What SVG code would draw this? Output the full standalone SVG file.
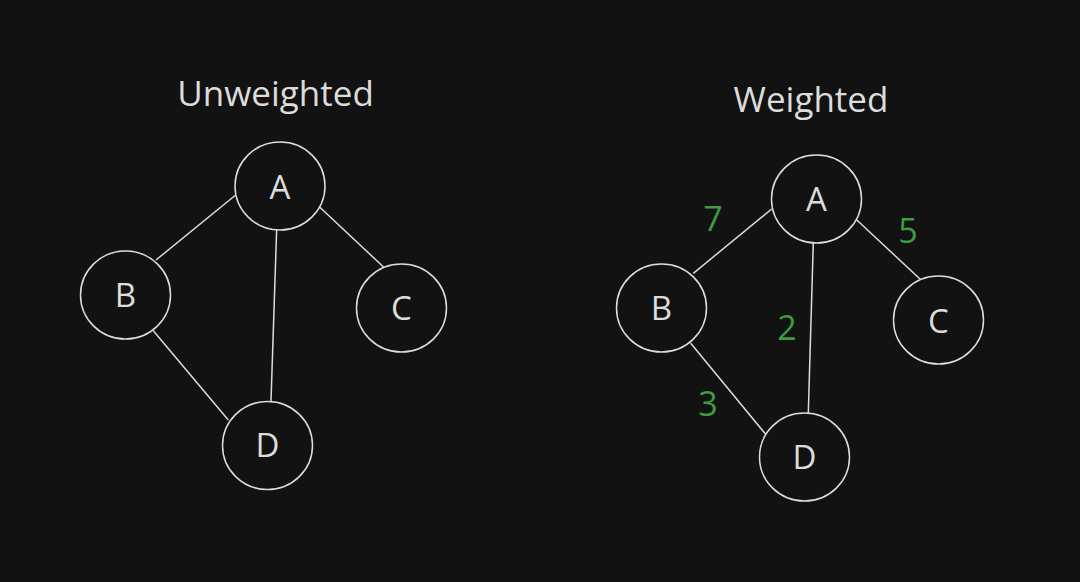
<svg xmlns="http://www.w3.org/2000/svg" width="1080" height="582" viewBox="0 0 1080 582">
<style>
.bg{fill:#121212}
.node ellipse{fill:#121212;stroke:#dcdcdc;stroke-width:1.5}
.lbl{font-family:"Open Sans","Noto Sans",sans-serif;font-size:33px;fill:#dcdcdc;text-anchor:middle}
.ttl{font-family:"Open Sans","Noto Sans",sans-serif;font-size:35px;fill:#dcdcdc;text-anchor:middle}
.w{font-family:"Open Sans","Noto Sans",sans-serif;font-size:34px;fill:#3d9b41;text-anchor:middle}
.edges line{stroke:#dcdcdc;stroke-width:1.5}
</style>
<rect class="bg" x="0" y="0" width="1080" height="582"/>
<text class="ttl" x="275.5" y="106">Unweighted</text>
<text class="ttl" x="811" y="112">Weighted</text>
<g id="connectors" class="edges">
<line x1="235.7" y1="195" x2="156" y2="260"/>
<line x1="319.3" y1="206.7" x2="386.7" y2="270"/>
<line x1="276.7" y1="228.3" x2="271" y2="401"/>
<line x1="153.3" y1="330.7" x2="228.3" y2="420"/>
<line x1="771.7" y1="209" x2="693.3" y2="273.3"/>
<line x1="856" y1="219.3" x2="924" y2="282.7"/>
<line x1="813.3" y1="242.3" x2="808.3" y2="413.3"/>
<line x1="690.7" y1="343.3" x2="765.7" y2="434.3"/>
</g>
<g id="weights">
<text class="w" x="713" y="231">7</text>
<text class="w" x="908" y="243">5</text>
<text class="w" x="787" y="340">2</text>
<text class="w" x="708" y="416">3</text>
</g>
<g id="uA" class="node"><ellipse cx="280" cy="186" rx="45" ry="44"/><text class="lbl" x="280" y="199">A</text></g>
<g id="uB" class="node"><ellipse cx="125.5" cy="295" rx="45" ry="44"/><text class="lbl" x="125.5" y="307">B</text></g>
<g id="uC" class="node"><ellipse cx="401.5" cy="308" rx="45" ry="44"/><text class="lbl" x="401.5" y="320">C</text></g>
<g id="uD" class="node"><ellipse cx="267.5" cy="445.5" rx="45" ry="44"/><text class="lbl" x="267.5" y="457">D</text></g>
<g id="wA" class="node"><ellipse cx="816.5" cy="199" rx="45" ry="44"/><text class="lbl" x="816.5" y="211">A</text></g>
<g id="wB" class="node"><ellipse cx="661.5" cy="308" rx="45" ry="44"/><text class="lbl" x="661.5" y="320">B</text></g>
<g id="wC" class="node"><ellipse cx="938.5" cy="320" rx="45" ry="44"/><text class="lbl" x="938.5" y="333">C</text></g>
<g id="wD" class="node"><ellipse cx="804.5" cy="457" rx="45" ry="44"/><text class="lbl" x="804.5" y="469">D</text></g>
</svg>
